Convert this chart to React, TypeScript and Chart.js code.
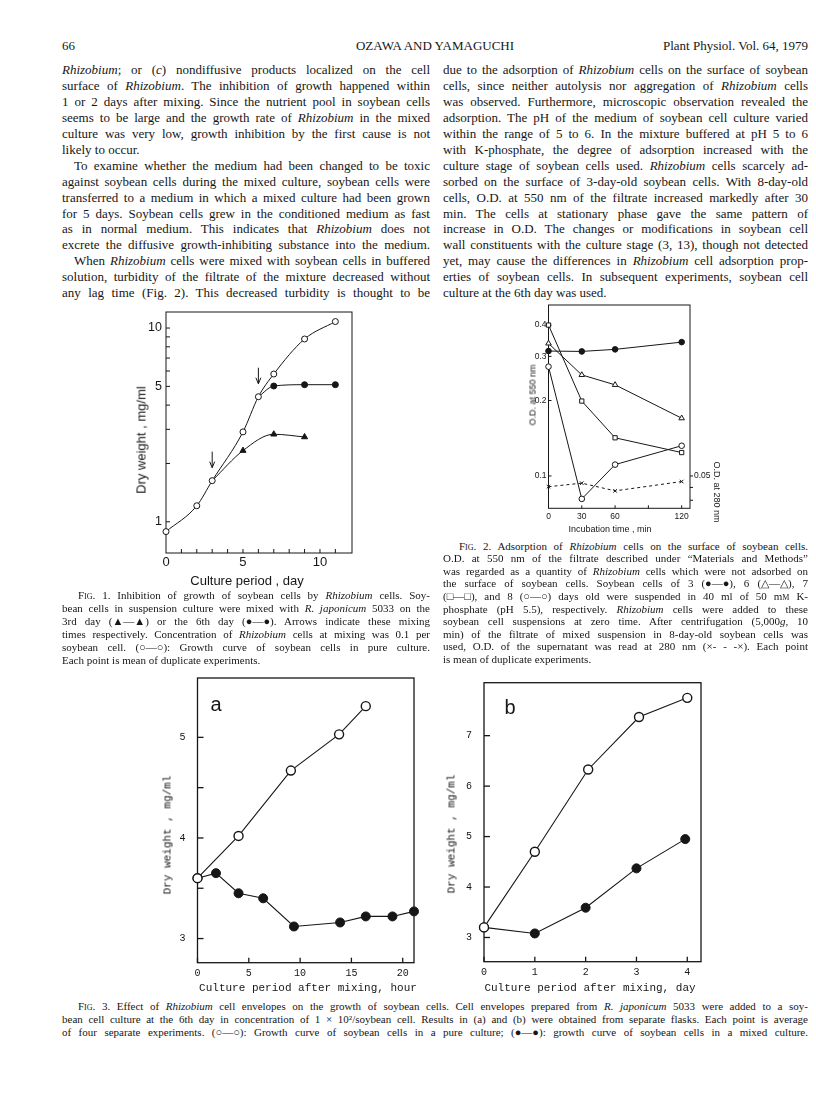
import React, { useEffect, useLayoutEffect, useRef } from "react";
import { Chart, registerables } from "chart.js";
Chart.register(...registerables);

// ---------------- data ----------------
// Fig. 1 (dry weight, mg/ml, vs culture period, day)
const fig1PureDays = [0, 2, 3, 5, 6, 7, 9, 11];
const fig1PureWeight = [0.89, 1.21, 1.63, 2.91, 4.42, 5.79, 8.78, 10.8];
const fig1Mix3Days = [3, 5, 7, 9];
const fig1Mix3Weight = [1.63, 2.33, 2.83, 2.74];
const fig1Mix6Days = [6, 7, 9, 11];
const fig1Mix6Weight = [4.42, 5.02, 5.1, 5.1];
const fig1ArrowDays = [3, 6];
const fig1ArrowWeight = [1.63, 4.42];
const fig1XTicks = [0, 5, 10];
const fig1YTicks = [1, 5, 10];
const fig1XMinor = [1, 2, 3, 4, 5, 6, 7, 8, 9, 10, 11];
const fig1YMinor = [1, 2, 3, 4, 5, 6, 7, 8, 9, 10];

// Fig. 2 (O.D. vs incubation time, min)
const fig2Minutes = [0, 30, 60, 120];
const fig2Day3 = [0.315, 0.314, 0.32, 0.342];
const fig2Day6 = [0.338, 0.253, 0.231, 0.17];
const fig2Day7 = [0.4, 0.199, 0.142, 0.124];
const fig2Day8 = [0.273, 0.081, 0.111, 0.132];
const fig2OD280 = [0.0453, 0.0468, 0.0436, 0.0475];
const fig2XTicks = [0, 30, 60, 120];
const fig2YTicks = [0.1, 0.2, 0.3, 0.4];
const fig2Y2Ticks = [0.05];
const fig2XMinor = [30, 60, 90, 120];
const fig2Y2Minor = [0.05, 0.045, 0.04];

// Fig. 3a (dry weight vs hours after mixing)
const fig3aPureHours = [0, 4, 9.1, 13.8, 16.4];
const fig3aPureWeight = [3.6, 4.02, 4.67, 5.03, 5.31];
const fig3aMixHours = [0, 1.8, 4, 6.4, 9.4, 13.9, 16.4, 19.0, 21.1];
const fig3aMixWeight = [3.6, 3.65, 3.45, 3.4, 3.12, 3.16, 3.22, 3.22, 3.27];
const fig3aXTicks = [0, 5, 10, 15, 20];
const fig3aYTicks = [3, 4, 5];
const fig3aYMinor = [3, 3.5, 4, 4.5, 5];

// Fig. 3b (dry weight vs days after mixing)
const fig3bPureDays = [0, 1, 2.05, 3.05, 4];
const fig3bPureWeight = [3.2, 4.7, 6.33, 7.37, 7.75];
const fig3bMixDays = [0, 1, 2, 3, 3.96];
const fig3bMixWeight = [3.2, 3.08, 3.59, 4.37, 4.95];
const fig3bXTicks = [0, 1, 2, 3, 4];
const fig3bYTicks = [3, 4, 5, 6, 7];

// ---------------- text ----------------
const headerLeft = "66";
const headerCenter = "OZAWA AND YAMAGUCHI";
const headerRight = "Plant Physiol. Vol. 64, 1979";

const bodyLeft = [
  "*Rhizobium*; or (*c*) nondiffusive products localized on the cell",
  "surface of *Rhizobium*. The inhibition of growth happened within",
  "1 or 2 days after mixing. Since the nutrient pool in soybean cells",
  "seems to be large and the growth rate of *Rhizobium* in the mixed",
  "culture was very low, growth inhibition by the first cause is not",
  "=likely to occur.",
  ">To examine whether the medium had been changed to be toxic",
  "against soybean cells during the mixed culture, soybean cells were",
  "transferred to a medium in which a mixed culture had been grown",
  "for 5 days. Soybean cells grew in the conditioned medium as fast",
  "as in normal medium. This indicates that *Rhizobium* does not",
  "excrete the diffusive growth-inhibiting substance into the medium.",
  ">When *Rhizobium* cells were mixed with soybean cells in buffered",
  "solution, turbidity of the filtrate of the mixture decreased without",
  "any lag time (Fig. 2). This decreased turbidity is thought to be",
];
const bodyRight = [
  "due to the adsorption of *Rhizobium* cells on the surface of soybean",
  "cells, since neither autolysis nor aggregation of *Rhizobium* cells",
  "was observed. Furthermore, microscopic observation revealed the",
  "adsorption. The pH of the medium of soybean cell culture varied",
  "within the range of 5 to 6. In the mixture buffered at pH 5 to 6",
  "with K-phosphate, the degree of adsorption increased with the",
  "culture stage of soybean cells used. *Rhizobium* cells scarcely ad-",
  "sorbed on the surface of 3-day-old soybean cells. With 8-day-old",
  "cells, O.D. at 550 nm of the filtrate increased markedly after 30",
  "min. The cells at stationary phase gave the same pattern of",
  "increase in O.D. The changes or modifications in soybean cell",
  "wall constituents with the culture stage (3, 13), though not detected",
  "yet, may cause the differences in *Rhizobium* cell adsorption prop-",
  "erties of soybean cells. In subsequent experiments, soybean cell",
  "=culture at the 6th day was used.",
];
const caption1 = [
  ">~Fig.~ 1. Inhibition of growth of soybean cells by *Rhizobium* cells. Soy-",
  "bean cells in suspension culture were mixed with *R. japonicum* 5033 on the",
  "3rd day (▲—▲) or the 6th day (●—●). Arrows indicate these mixing",
  "times respectively. Concentration of *Rhizobium* cells at mixing was 0.1 per",
  "soybean cell. (○—○): Growth curve of soybean cells in pure culture.",
  "=Each point is mean of duplicate experiments.",
];
const caption2 = [
  ">~Fig.~ 2. Adsorption of *Rhizobium* cells on the surface of soybean cells.",
  "O.D. at 550 nm of the filtrate described under “Materials and Methods”",
  "was regarded as a quantity of *Rhizobium* cells which were not adsorbed on",
  "the surface of soybean cells. Soybean cells of 3 (●—●), 6 (△—△), 7",
  "(□—□), and 8 (○—○) days old were suspended in 40 ml of 50 m~m~ K-",
  "phosphate (pH 5.5), respectively. *Rhizobium* cells were added to these",
  "soybean cell suspensions at zero time. After centrifugation (5,000*g*, 10",
  "min) of the filtrate of mixed suspension in 8-day-old soybean cells was",
  "used, O.D. of the supernatant was read at 280 nm (×- - -×). Each point",
  "=is mean of duplicate experiments.",
];
const caption3 = [
  ">~Fig.~ 3. Effect of *Rhizobium* cell envelopes on the growth of soybean cells. Cell envelopes prepared from *R. japonicum* 5033 were added to a soy-",
  "bean cell culture at the 6th day in concentration of 1 × 10²/soybean cell. Results in (a) and (b) were obtained from separate flasks. Each point is average",
  "of four separate experiments. (○—○): Growth curve of soybean cells in a pure culture; (●—●): growth curve of soybean cells in a mixed culture.",
];

// ---------------- helpers ----------------
const INK = "#161616";
type XY = { x: number; y: number };
const zip = (xs: number[], ys: number[]): XY[] => xs.map((x, i) => ({ x, y: ys[i] }));

function parseMarkup(s: string) {
  const out: React.ReactNode[] = [];
  const re = /(\*[^*]+\*|~[^~]+~)/g;
  let last = 0;
  let m: RegExpExecArray | null;
  let k = 0;
  while ((m = re.exec(s))) {
    if (m.index > last) out.push(s.slice(last, m.index));
    const t = m[0];
    if (t[0] === "*") out.push(<i key={k++}>{t.slice(1, -1)}</i>);
    else out.push(<span key={k++} style={{ fontVariant: "small-caps" }}>{t.slice(1, -1)}</span>);
    last = m.index + t.length;
  }
  if (last < s.length) out.push(s.slice(last));
  return out;
}

function TextBlock({ lines, x, y, w, size, lh, indent }: { lines: string[]; x: number; y: number; w: number; size: number; lh: number; indent: number }) {
  return (
    <>
      {lines.map((raw, i) => {
        let s = raw;
        let just = true;
        let ind = 0;
        if (s.startsWith("=")) { just = false; s = s.slice(1); }
        if (s.startsWith(">")) { ind = indent; s = s.slice(1); }
        return (
          <div
            key={i}
            data-j={just ? String(w - ind) : ""}
            style={{ position: "absolute", left: x + ind, top: y + i * lh - size * 0.58, fontSize: size, lineHeight: `${size}px`, whiteSpace: "nowrap" }}
          >
            <span>{parseMarkup(s)}</span>
          </div>
        );
      })}
    </>
  );
}

function Label({ text, x, y, size, font, rot = 0, weight = 400 }: { text: string; x: number; y: number; size: number; font: string; rot?: number; weight?: number }) {
  return (
    <div
      style={{
        position: "absolute", left: x, top: y, fontSize: size, fontFamily: font, fontWeight: weight,
        lineHeight: 1, whiteSpace: "nowrap", transform: `translate(-50%,-50%) rotate(${rot}deg)`, color: INK,
      }}
    >
      {text}
    </div>
  );
}

const framePlugin = {
  id: "frame",
  beforeDatasetsDraw(chart: any, _a: any, opts: any) {
    const { ctx, chartArea: ca } = chart;
    ctx.save();
    ctx.strokeStyle = INK;
    ctx.lineWidth = opts.lineWidth || 1;
    ctx.strokeRect(ca.left, ca.top, ca.right - ca.left, ca.bottom - ca.top);
    (opts.marks || []).forEach((m: any) => {
      const s = chart.scales[m.axis];
      m.values.forEach((v: number) => {
        const p = s.getPixelForValue(v);
        ctx.beginPath();
        if (m.side === "bottom") { ctx.moveTo(p, ca.bottom); ctx.lineTo(p, ca.bottom - m.len); }
        else if (m.side === "left") { ctx.moveTo(ca.left, p); ctx.lineTo(ca.left + m.len, p); }
        else { ctx.moveTo(ca.right, p); ctx.lineTo(ca.right + m.len, p); }
        ctx.stroke();
      });
    });
    ctx.restore();
  },
};

const arrowPlugin = {
  id: "arrows",
  afterDatasetsDraw(chart: any, _a: any, opts: any) {
    if (!opts || !opts.days) return;
    const { ctx } = chart;
    const xs = chart.scales.x, ys = chart.scales.y;
    ctx.save();
    ctx.strokeStyle = INK;
    ctx.lineWidth = 1;
    opts.days.forEach((d: number, i: number) => {
      const px = xs.getPixelForValue(d);
      const py = ys.getPixelForValue(opts.values[i]) - opts.gap;
      ctx.beginPath();
      ctx.moveTo(px, py - opts.len);
      ctx.lineTo(px, py);
      ctx.moveTo(px - 2.5, py - 6);
      ctx.lineTo(px, py);
      ctx.lineTo(px + 2.5, py - 6);
      ctx.stroke();
    });
    ctx.restore();
  },
};

function axis(o: { type?: string; min: number; max: number; ticks: number[]; family: string; size: number; pad: number; fit: "width" | "height"; fitVal: number; position?: string; fmt?: (v: number) => string; }) {
  return {
    type: o.type || "linear",
    position: o.position,
    min: o.min,
    max: o.max,
    grid: { display: false, drawTicks: false },
    border: { display: false },
    afterBuildTicks: (s: any) => { s.ticks = o.ticks.map((v) => ({ value: v })); },
    afterFit: (s: any) => { s[o.fit] = o.fitVal; },
    ticks: {
      font: { family: o.family, size: o.size },
      color: INK,
      padding: o.pad,
      autoSkip: false,
      maxRotation: 0,
      minRotation: 0,
      callback: (v: any) => (o.fmt ? o.fmt(Number(v)) : String(v)),
    },
  };
}

function baseOptions(padTop: number, padRight: number, scales: any, plugins: any) {
  return {
    animation: false,
    responsive: false,
    maintainAspectRatio: false,
    devicePixelRatio: 1,
    layout: { padding: { top: padTop, right: padRight, left: 0, bottom: 0 } },
    events: [],
    plugins: { legend: { display: false }, tooltip: { enabled: false }, ...plugins },
    scales,
  };
}

function ChartCanvas({ left, top, width, height, make }: { left: number; top: number; width: number; height: number; make: () => any }) {
  const ref = useRef<HTMLCanvasElement>(null);
  useEffect(() => {
    const chart = new Chart(ref.current as HTMLCanvasElement, make());
    return () => chart.destroy();
  }, []);
  return <canvas ref={ref} width={width} height={height} style={{ position: "absolute", left, top, width, height }} />;
}

const SANS = "Liberation Sans, Arial, sans-serif";
const MONO = "Liberation Mono, Courier New, monospace";

function line(data: XY[], opts: any) {
  return {
    data,
    borderColor: INK,
    borderWidth: 1,
    pointBorderColor: INK,
    pointBackgroundColor: "#fff",
    pointBorderWidth: 1,
    pointRadius: 3,
    clip: false,
    ...opts,
  };
}

// ---------------- chart configs ----------------
const makeFig1 = () => ({
  type: "line",
  data: {
    datasets: [
      line(zip(fig1PureDays, fig1PureWeight), { cubicInterpolationMode: "monotone", pointRadius: 3 }),
      line(zip(fig1Mix6Days, fig1Mix6Weight), { cubicInterpolationMode: "monotone", pointRadius: [0, 3, 3, 3], pointBackgroundColor: INK }),
      line(zip(fig1Mix3Days, fig1Mix3Weight), { cubicInterpolationMode: "monotone", pointStyle: "triangle", pointRadius: [0, 3.5, 3.5, 3.5], pointBackgroundColor: INK }),
    ],
  },
  options: baseOptions(12, 23, {
    x: axis({ min: 0, max: 12.08, ticks: fig1XTicks, family: SANS, size: 13, pad: 2, fit: "height", fitVal: 42 }),
    y: axis({ type: "logarithmic", min: 0.69, max: 12.1, ticks: fig1YTicks, family: SANS, size: 12.5, pad: 4, fit: "width", fitVal: 51 }),
  }, {
    frame: { marks: [
      { axis: "x", side: "bottom", values: fig1XMinor, len: 4 },
      { axis: "y", side: "left", values: fig1YMinor, len: 4 },
    ] },
    arrows: { days: fig1ArrowDays, values: fig1ArrowWeight, gap: 13, len: 16 },
  }),
  plugins: [framePlugin, arrowPlugin],
});

const makeFig2 = () => ({
  type: "line",
  data: {
    datasets: [
      line(zip(fig2Minutes, fig2Day3), { pointBackgroundColor: INK, pointRadius: 2.8 }),
      line(zip(fig2Minutes, fig2Day6), { pointStyle: "triangle", pointRadius: 3.2 }),
      line(zip(fig2Minutes, fig2Day7), { pointStyle: "rect", pointRadius: 3 }),
      line(zip(fig2Minutes, fig2Day8), { pointRadius: 2.8 }),
      line(zip(fig2Minutes, fig2OD280), { yAxisID: "y2", pointStyle: "crossRot", pointRadius: 2.5, borderDash: [3, 3] }),
    ],
  },
  options: baseOptions(10, 0, {
    x: axis({ min: 0, max: 127.5, ticks: fig2XTicks, family: SANS, size: 8.5, pad: 3, fit: "height", fitVal: 26.7 }),
    y: axis({ type: "logarithmic", min: 0.0743, max: 0.481, ticks: fig2YTicks, family: SANS, size: 8.5, pad: 2, fit: "width", fitVal: 43.5 }),
    y2: axis({ type: "logarithmic", position: "right", min: 0.03715, max: 0.2405, ticks: fig2Y2Ticks, family: SANS, size: 8.5, pad: 4, fit: "width", fitVal: 30 }),
  }, {
    frame: { marks: [
      { axis: "x", side: "bottom", values: fig2XMinor, len: 3 },
      { axis: "y", side: "left", values: fig2YTicks, len: 3 },
      { axis: "y2", side: "right", values: fig2Y2Minor, len: 3 },
    ] },
  }),
  plugins: [framePlugin],
});

const makeFig3a = () => ({
  type: "line",
  data: {
    datasets: [
      line(zip(fig3aPureHours, fig3aPureWeight), { pointRadius: 4.5, pointBorderWidth: 1.4, borderWidth: 1.1 }),
      line(zip(fig3aMixHours, fig3aMixWeight), { pointRadius: 4.5, pointBackgroundColor: INK, borderWidth: 1.1 }),
    ],
  },
  options: baseOptions(14.3, 11, {
    x: axis({ min: 0, max: 21.1, ticks: fig3aXTicks, family: MONO, size: 10, pad: 5, fit: "height", fitVal: 32.3 }),
    y: axis({ min: 2.76, max: 5.59, ticks: fig3aYTicks, family: MONO, size: 10, pad: 12, fit: "width", fitVal: 47.5 }),
  }, {
    frame: { lineWidth: 1.3, marks: [
      { axis: "x", side: "bottom", values: fig3aXTicks, len: 5 },
      { axis: "y", side: "left", values: fig3aYMinor, len: 6 },
    ] },
  }),
  plugins: [framePlugin],
});

const makeFig3b = () => ({
  type: "line",
  data: {
    datasets: [
      line(zip(fig3bPureDays, fig3bPureWeight), { pointRadius: 4.5, pointBorderWidth: 1.4, borderWidth: 1.1 }),
      line(zip(fig3bMixDays, fig3bMixWeight), { pointRadius: 4.5, pointBackgroundColor: INK, borderWidth: 1.1 }),
    ],
  },
  options: baseOptions(22.7, 14, {
    x: axis({ min: 0, max: 4.27, ticks: fig3bXTicks, family: MONO, size: 10, pad: 5, fit: "height", fitVal: 33.3 }),
    y: axis({ min: 2.52, max: 8.05, ticks: fig3bYTicks, family: MONO, size: 10, pad: 12, fit: "width", fitVal: 54 }),
  }, {
    frame: { lineWidth: 1.3, marks: [
      { axis: "x", side: "bottom", values: fig3bXTicks, len: 5 },
      { axis: "y", side: "left", values: fig3bYTicks, len: 6 },
    ] },
  }),
  plugins: [framePlugin],
});

export default function App() {
  useLayoutEffect(() => {
    const run = () => {
      document.querySelectorAll<HTMLElement>("[data-j]").forEach((el) => {
        const target = parseFloat(el.dataset.j || "");
        if (!target) return;
        const span = el.firstElementChild as HTMLElement;
        span.style.wordSpacing = "0px";
        const natural = span.getBoundingClientRect().width;
        const spaces = ((span.textContent || "").match(/ /g) || []).length;
        if (spaces) span.style.wordSpacing = `${(target - natural) / spaces}px`;
      });
    };
    run();
    if ((document as any).fonts) (document as any).fonts.ready.then(run);
  }, []);

  return (
    <div style={{ position: "absolute", left: 0, top: 0, width: 816, height: 1103, background: "#fff", fontFamily: "Liberation Serif, Times New Roman, serif", color: INK, overflow: "hidden" }}>
      {/* header */}
      <div style={{ position: "absolute", left: 62, top: 38, fontSize: 13 }}>{headerLeft}</div>
      <div style={{ position: "absolute", left: 435, top: 38, fontSize: 13, transform: "translateX(-50%)", whiteSpace: "nowrap" }}>{headerCenter}</div>
      <div style={{ position: "absolute", right: 816 - 808, top: 38, fontSize: 13, whiteSpace: "nowrap" }}>{headerRight}</div>

      {/* body */}
      <TextBlock lines={bodyLeft} x={62} y={71} w={368} size={13} lh={15.9} indent={12} />
      <TextBlock lines={bodyRight} x={443} y={71} w={365} size={13} lh={15.9} indent={12} />

      {/* Fig 1 */}
      <ChartCanvas left={115} top={300} width={260} height={295} make={makeFig1} />
      <Label text="Dry weight , mg/ml" x={141} y={440} size={13} font={SANS} rot={-90} />
      <Label text="Culture period , day" x={247} y={580} size={13} font={SANS} />
      <TextBlock lines={caption1} x={62} y={596} w={368} size={11} lh={13} indent={16} />

      {/* Fig 2 */}
      <ChartCanvas left={505} top={295} width={215} height={240} make={makeFig2} />
      <Label text="O.D. at 550 nm" x={533} y={395} size={9} font={SANS} rot={-90} />
      <Label text="O.D. at 280 nm" x={716} y={492} size={9} font={SANS} rot={90} />
      <Label text="Incubation time , min" x={610} y={529} size={9} font={SANS} />
      <TextBlock lines={caption2} x={443} y={547} w={365} size={11} lh={12.6} indent={16} />

      {/* Fig 3a */}
      <ChartCanvas left={150} top={660} width={275} height={335} make={makeFig3a} />
      <Label text="a" x={216} y={704} size={20} font={SANS} />
      <Label text="Dry weight , mg/ml" x={168} y={835} size={11} font={MONO} rot={-90} />
      <Label text="Culture period after mixing, hour" x={308} y={988} size={11} font={MONO} />

      {/* Fig 3b */}
      <ChartCanvas left={430} top={660} width={285} height={335} make={makeFig3b} />
      <Label text="b" x={510} y={707} size={20} font={SANS} />
      <Label text="Dry weight , mg/ml" x={452} y={834} size={11} font={MONO} rot={-90} />
      <Label text="Culture period after mixing, day" x={590} y={988} size={11} font={MONO} />

      <TextBlock lines={caption3} x={62} y={1007} w={746} size={11} lh={13} indent={16} />
    </div>
  );
}
